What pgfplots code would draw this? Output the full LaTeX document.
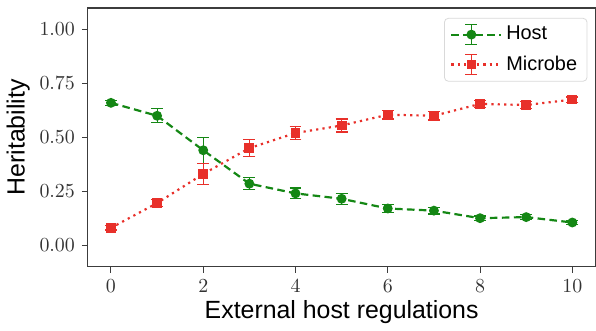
\documentclass[border=0pt]{standalone}
\usepackage{pgfplots}
\pgfplotsset{compat=1.18}
\usepackage{fontspec}
\setmainfont{Liberation Sans}
\definecolor{hostg}{RGB}{20,135,20}
\definecolor{micr}{RGB}{232,48,42}
\definecolor{frame}{RGB}{60,60,60}
\begin{document}
\begin{tikzpicture}
\begin{axis}[
  scale only axis,
  width=255pt, height=130pt,
  xmin=-0.5, xmax=10.5,
  ymin=-0.1, ymax=1.1,
  xtick={0,2,4,6,8,10},
  ytick={0,0.25,0.5,0.75,1},
  yticklabel style={/pgf/number format/fixed,/pgf/number format/fixed zerofill,/pgf/number format/precision=2},
  tick label style={font=\fontsize{10}{12}\selectfont, text=black!80},
  tick align=outside,
  major tick length=3pt,
  tick style={frame, line width=0.5pt},
  xtick pos=bottom, ytick pos=left,
  axis line style={frame, line width=0.6pt},
  xlabel={External host regulations},
  ylabel={Heritability},
  label style={font=\fontsize{12.5}{14}\selectfont},
  xlabel style={yshift=3pt},
  ylabel style={yshift=-2pt},
  legend style={at={(1,1)}, anchor=north east, xshift=-4pt, yshift=-5pt,
    draw=black!15, rounded corners=2pt, font=\fontsize{10}{12}\selectfont,
    row sep=2.5pt, inner xsep=3pt, inner ysep=2pt},
  legend cell align=left,
  legend image code/.code={
    \draw[mark repeat=2,mark phase=2,#1] plot coordinates {(0pt,0pt) (10pt,0pt) (20pt,0pt)};
    \draw[#1,solid,line width=0.6pt,mark=none] (10pt,-5pt) -- (10pt,5pt) (7pt,-5pt) -- (13pt,-5pt) (7pt,5pt) -- (13pt,5pt);
    \path (0pt,0pt) -- (25pt,0pt);
  },
]
\addplot[hostg, line width=1.1pt, dash pattern=on 3.8pt off 2.2pt,
  mark=*, mark size=1.9pt, mark options={solid},
  error bars/.cd, y dir=both, y explicit,
  error bar style={line width=0.6pt, solid},
  error mark options={rotate=90, mark size=3pt, line width=0.6pt, solid}]
  coordinates {
  (0,0.660) +- (0,0.012)
  (1,0.600) +- (0,0.032)
  (2,0.440) +- (0,0.060)
  (3,0.285) +- (0,0.027)
  (4,0.240) +- (0,0.025)
  (5,0.215) +- (0,0.025)
  (6,0.170) +- (0,0.020)
  (7,0.160) +- (0,0.016)
  (8,0.125) +- (0,0.010)
  (9,0.130) +- (0,0.011)
  (10,0.105) +- (0,0.011)
  };
\addlegendentry{Host}
\addplot[micr, line width=1.1pt, dash pattern=on 1.1pt off 2.1pt,
  mark=square*, mark size=1.9pt, mark options={solid},
  error bars/.cd, y dir=both, y explicit,
  error bar style={line width=0.6pt, solid},
  error mark options={rotate=90, mark size=3pt, line width=0.6pt, solid}]
  coordinates {
  (0,0.080) +- (0,0.010)
  (1,0.195) +- (0,0.015)
  (2,0.330) +- (0,0.050)
  (3,0.450) +- (0,0.040)
  (4,0.520) +- (0,0.030)
  (5,0.555) +- (0,0.030)
  (6,0.605) +- (0,0.020)
  (7,0.600) +- (0,0.020)
  (8,0.655) +- (0,0.015)
  (9,0.650) +- (0,0.015)
  (10,0.675) +- (0,0.012)
  };
\addlegendentry{Microbe}
\end{axis}
\path ([yshift=4pt]current axis.north);
\end{tikzpicture}
\end{document}
